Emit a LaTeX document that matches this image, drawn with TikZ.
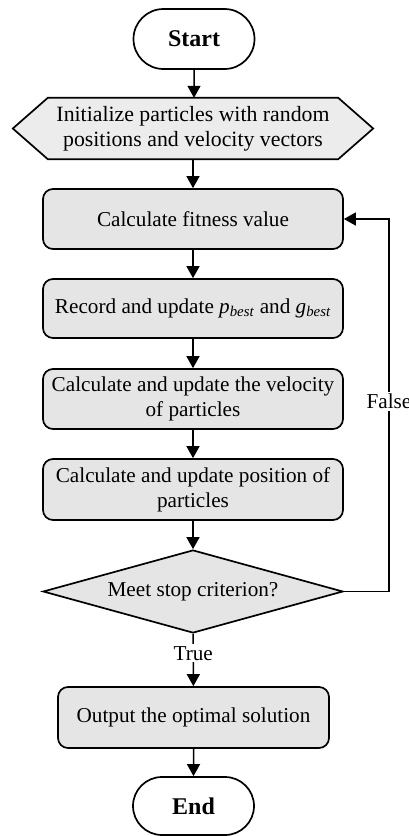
\documentclass[tikz,border=0pt]{standalone}
\usepackage{fontspec}
\setmainfont{Liberation Serif}
\usetikzlibrary{arrows.meta,shapes.misc,shapes.geometric,backgrounds}
\definecolor{boxgray}{RGB}{229,229,229}
\definecolor{hexgray}{RGB}{236,236,236}
\begin{document}
\begin{tikzpicture}[x=1pt,y=-1pt,
  every node/.style={font=\fontsize{21.2}{25}\selectfont, inner sep=0pt},
  terminal/.style={rounded rectangle, draw, line width=1.7pt, minimum width=121pt, minimum height=60pt, font=\fontsize{24}{28}\selectfont\bfseries},
  procbox/.style={rectangle, rounded corners=10pt, draw, line width=1.7pt, fill=boxgray, minimum width=300pt, align=center},
  decision/.style={diamond, draw, line width=1.7pt, fill=boxgray, minimum width=300pt, minimum height=83pt, aspect=3.6},
  conn/.style={line width=1.5pt, -{Triangle[width=13pt,length=12pt]}},
  lbl/.style={fill=white, inner sep=2pt}
]
\useasboundingbox (0,0) rectangle (408,836);

\node[terminal] (start) at (194,39) {Start};
\node[minimum width=360pt, minimum height=61pt, align=center, font=\fontsize{21.8}{25}\selectfont] (init) at (193,128.5) {Initialize particles with random\\positions and velocity vectors};
\begin{scope}[on background layer]
\draw[line width=1.7pt, fill=hexgray] (init.west) -- ([xshift=35pt]init.north west) -- ([xshift=-35pt]init.north east) -- (init.east) -- ([xshift=-35pt]init.south east) -- ([xshift=35pt]init.south west) -- cycle;
\end{scope}
\node[procbox, minimum height=60pt] (fit) at (193,219) {Calculate fitness value};
\node[procbox, minimum height=59pt] (rec) at (193,308.5) {Record and update \textit{p}\textsubscript{\textit{best}} and \textit{g}\textsubscript{\textit{best}}};
\node[procbox, minimum height=60pt] (vel) at (193,399) {Calculate and update the velocity\\of particles};
\node[procbox, minimum height=61pt] (pos) at (193,489.5) {Calculate and update position of\\particles};
\node[decision] (stop) at (193,591.5) {Meet stop criterion?};
\node[procbox, minimum width=271pt, minimum height=61pt] (out) at (193.5,717.5) {Output the optimal solution};
\node[terminal, minimum height=58pt] (end) at (193.5,806) {End};

\draw[conn] (start) -- (start |- init.north);
\draw[conn] (init.south) -- (fit);
\draw[conn] (fit) -- (rec);
\draw[conn] (rec) -- (vel);
\draw[conn] (vel) -- (pos);
\draw[conn] (pos) -- (stop);
\draw[conn] (stop) -- node[lbl, pos=0.37] {True} (out);
\draw[conn] (out) -- (end);
\coordinate (fb) at (389,591.5);
\draw[conn] (stop.east) -- (fb) -- node[lbl, pos=0.51] {False} (fb |- fit.east) -- (fit.east);
\end{tikzpicture}
\end{document}
